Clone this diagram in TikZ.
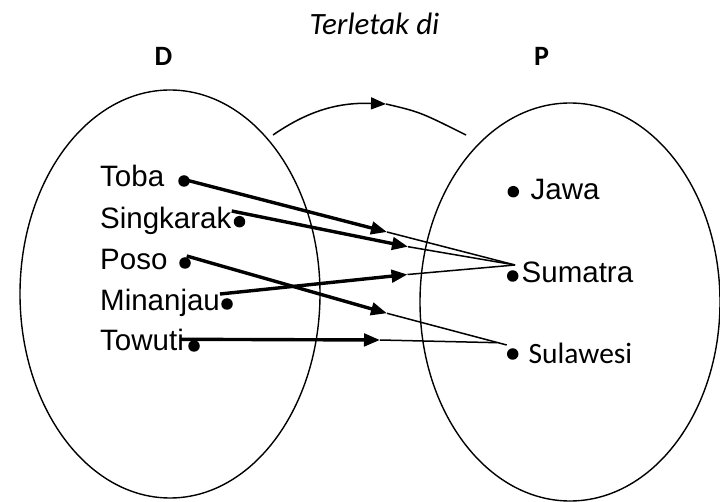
\documentclass[tikz,border=0pt]{standalone}
\usepackage{fontspec}
\setmainfont{Liberation Sans}
\newfontfamily\calfont{Carlito}
\usetikzlibrary{arrows.meta,shapes.geometric}
\begin{document}
\begin{tikzpicture}[x=1pt,y=-1pt,
  lbl/.style={anchor=base west,inner sep=0pt,font=\fontsize{29.5}{32}\selectfont},
  dotp/.style={circle,fill=black,inner sep=0pt,minimum size=11.5pt},
  setell/.style={draw,ellipse,line width=1.4pt,inner sep=0pt},
  thickarr/.style={line width=3.4pt,-{Triangle[length=16pt,width=12.5pt]}},
  thinln/.style={line width=1.5pt},
  hdr/.style={anchor=base,inner sep=0pt,font=\calfont\bfseries\fontsize{28}{30}\selectfont}
]
\useasboundingbox (0,0) rectangle (720,502);
% sets
\node[setell,minimum width=300pt,minimum height=408pt] (setD) at (170,294) {};
\node[setell,minimum width=300pt,minimum height=398pt] (setP) at (570,302) {};
% headers
\node[hdr] (hD) at (163.5,66) {D};
\node[hdr] (hP) at (541.5,66) {P};
\node[anchor=base,inner sep=0pt,font=\calfont\itshape\fontsize{31}{34}\selectfont] (rel) at (374.5,35) {Terletak di};
% top relation arrow
\coordinate (a0) at (273,135);
\coordinate (a1) at (386,104);
\coordinate (a2) at (466,135);
\draw[thinln,-{Triangle[length=15pt,width=12pt]}] (a0) .. controls (305,113) and (335,102) .. (a1);
\draw[thinln] (a1) .. controls (420,112) .. (a2);
% domain labels
\node[lbl] (lToba) at (100,186.7) {Toba};
\node[lbl] (lSing) at (100,229) {Singkarak};
\node[lbl] (lPoso) at (100,269.5) {Poso};
\node[lbl] (lMin) at (100,310.5) {Minanjau};
\node[lbl] (lTow) at (100,350.5) {Towuti};
\node[dotp] (dToba) at (184,181) {};
\node[dotp] (dSing) at (239.5,221.7) {};
\node[dotp] (dPoso) at (185,263) {};
\node[dotp] (dMin) at (227,304) {};
\node[dotp] (dTow) at (194,346) {};
% codomain labels
\node[dotp] (dJawa) at (513.3,191.7) {};
\node[dotp] (dSum) at (512.7,276) {};
\node[dotp] (dSul) at (512.7,354) {};
\node[lbl] (lJawa) at (530.5,200) {Jawa};
\node[lbl] (lSum) at (521.5,282.5) {Sumatra};
\node[lbl,font=\calfont\fontsize{29.5}{32}\selectfont] (lSul) at (528.5,363) {Sulawesi};
% connector points
\coordinate (s1) at (188,180.5);
\coordinate (s2) at (231.7,211);
\coordinate (s3) at (186.7,256);
\coordinate (s4) at (220,294);
\coordinate (s5) at (180,339.3);
\coordinate (t1) at (387,232);
\coordinate (t2) at (408,246.7);
\coordinate (t3) at (387,313.3);
\coordinate (t4) at (407.5,274.5);
\coordinate (t5) at (380,340);
\coordinate (eSum) at (515,265);
\coordinate (eSulA) at (506.7,345);
\coordinate (eSulB) at (497,342.7);
% arrows
\draw[thickarr] (s1) -- (t1);
\draw[thickarr] (s2) -- (t2);
\draw[thickarr] (s3) -- (t3);
\draw[thickarr] (s4) -- (t4);
\draw[thickarr] (s5) -- (t5);
\draw[thinln] (t1) -- (eSum);
\draw[thinln] (t2) -- (eSum);
\draw[thinln] (t4) -- (eSum);
\draw[thinln] (t3) -- (eSulA);
\draw[thinln] (t5) -- (eSulB);
\end{tikzpicture}
\end{document}
